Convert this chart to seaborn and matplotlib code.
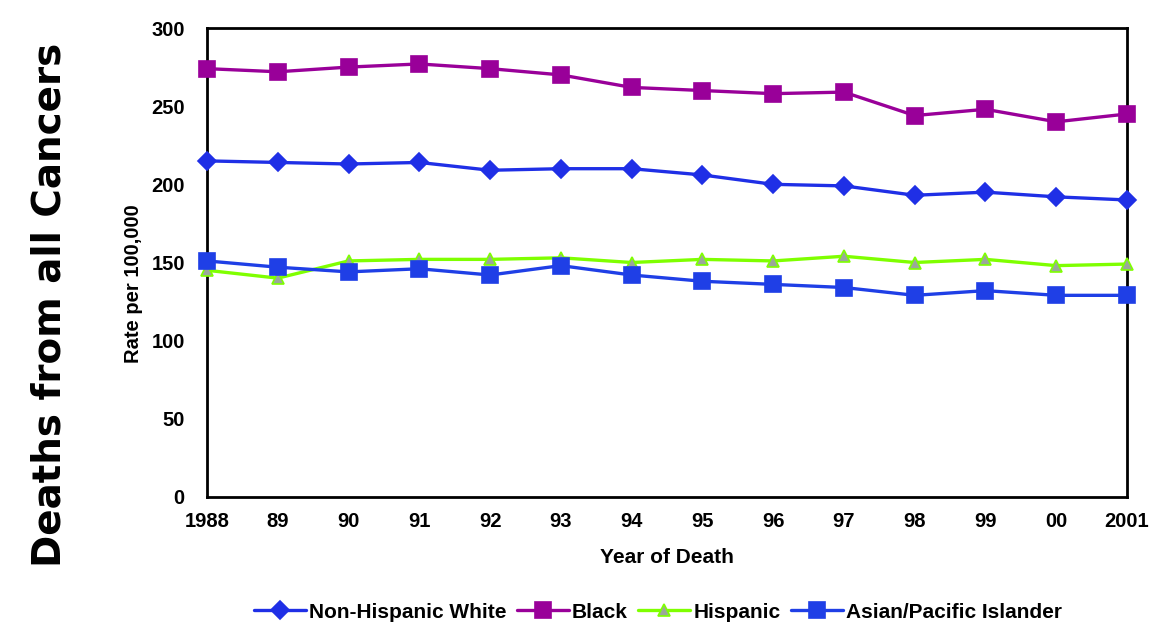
import matplotlib
matplotlib.use("Agg")
import matplotlib.pyplot as plt
import seaborn as sns
import pandas as pd
import numpy as np

years = ["1988", "89", "90", "91", "92", "93", "94", "95", "96", "97", "98", "99", "00", "2001"]
nh_white = [215, 214, 213, 214, 209, 210, 210, 206, 200, 199, 193, 195, 192, 190]
black = [274, 272, 275, 277, 274, 270, 262, 260, 258, 259, 244, 248, 240, 245]
hispanic = [145, 140, 151, 152, 152, 153, 150, 152, 151, 154, 150, 152, 148, 149]
asian = [151, 147, 144, 146, 142, 148, 142, 138, 136, 134, 129, 132, 129, 129]
series_names = ["Non-Hispanic White", "Black", "Hispanic", "Asian/Pacific Islander"]

sns.set_theme(style="white")
plt.rcParams["font.family"] = ["Liberation Sans", "DejaVu Sans"]
plt.rcParams["text.color"] = "black"
plt.rcParams["axes.labelcolor"] = "black"
plt.rcParams["xtick.color"] = "black"
plt.rcParams["ytick.color"] = "black"

fig = plt.figure(figsize=(11.54, 6.27), dpi=100)
ax = fig.add_axes([207/1154, 1-497/627, (1127-207)/1154, (497-28)/627])

x = np.arange(len(years))
styles = [
    (nh_white, "#1f2fe6", "D", 9, "#1f2fe6", "#1f2fe6"),
    (black, "#990099", "s", 12, "#990099", "#990099"),
    (hispanic, "#7fff00", "^", 9, "#9aa89a", "#7fff00"),
    (asian, "#1f3fe6", "s", 12, "#1f3fe6", "#1f3fe6"),
]
for name, (vals, col, mk, ms, mfc, mec) in zip(series_names, styles):
    df = pd.DataFrame({"x": x, "y": vals})
    sns.lineplot(data=df, x="x", y="y", ax=ax, color=col, linewidth=2.4,
                 marker=mk, markersize=ms, markerfacecolor=mfc,
                 markeredgecolor=mec, markeredgewidth=1.2, label=name,
                 clip_on=False, zorder=3)

ax.set_xlim(0, len(years) - 1)
ax.set_ylim(0, 300)
ax.set_yticks(range(0, 301, 50))
ax.set_xticks(x)
ax.set_xticklabels(years)
for lab in ax.get_xticklabels() + ax.get_yticklabels():
    lab.set_fontweight("bold")
    lab.set_fontsize(14.5)
ax.tick_params(axis="both", length=0)
ax.tick_params(axis="x", pad=11)
ax.tick_params(axis="y", pad=16)
for sp in ax.spines.values():
    sp.set_color("black")
    sp.set_linewidth(2)
ax.set_xlabel("Year of Death", fontsize=15, fontweight="bold", labelpad=12)
ax.set_ylabel("Rate per 100,000", fontsize=14.5, fontweight="bold", labelpad=8)
ax.yaxis.set_label_coords(-0.07, 0.455)

ax.legend(loc="upper center", bbox_to_anchor=(0.49, -0.185), ncol=4, frameon=False,
          prop={"size": 15, "weight": "bold"}, handlelength=2.5,
          columnspacing=0.5, handletextpad=0.15)

fig.text(50/1154, 1-305/627, "Deaths from all Cancers", rotation=90,
         ha="center", va="center", fontsize=28, fontweight="bold",
         family=["DejaVu Sans"], color="black")

fig.savefig("out.png", dpi=100, facecolor="white")
